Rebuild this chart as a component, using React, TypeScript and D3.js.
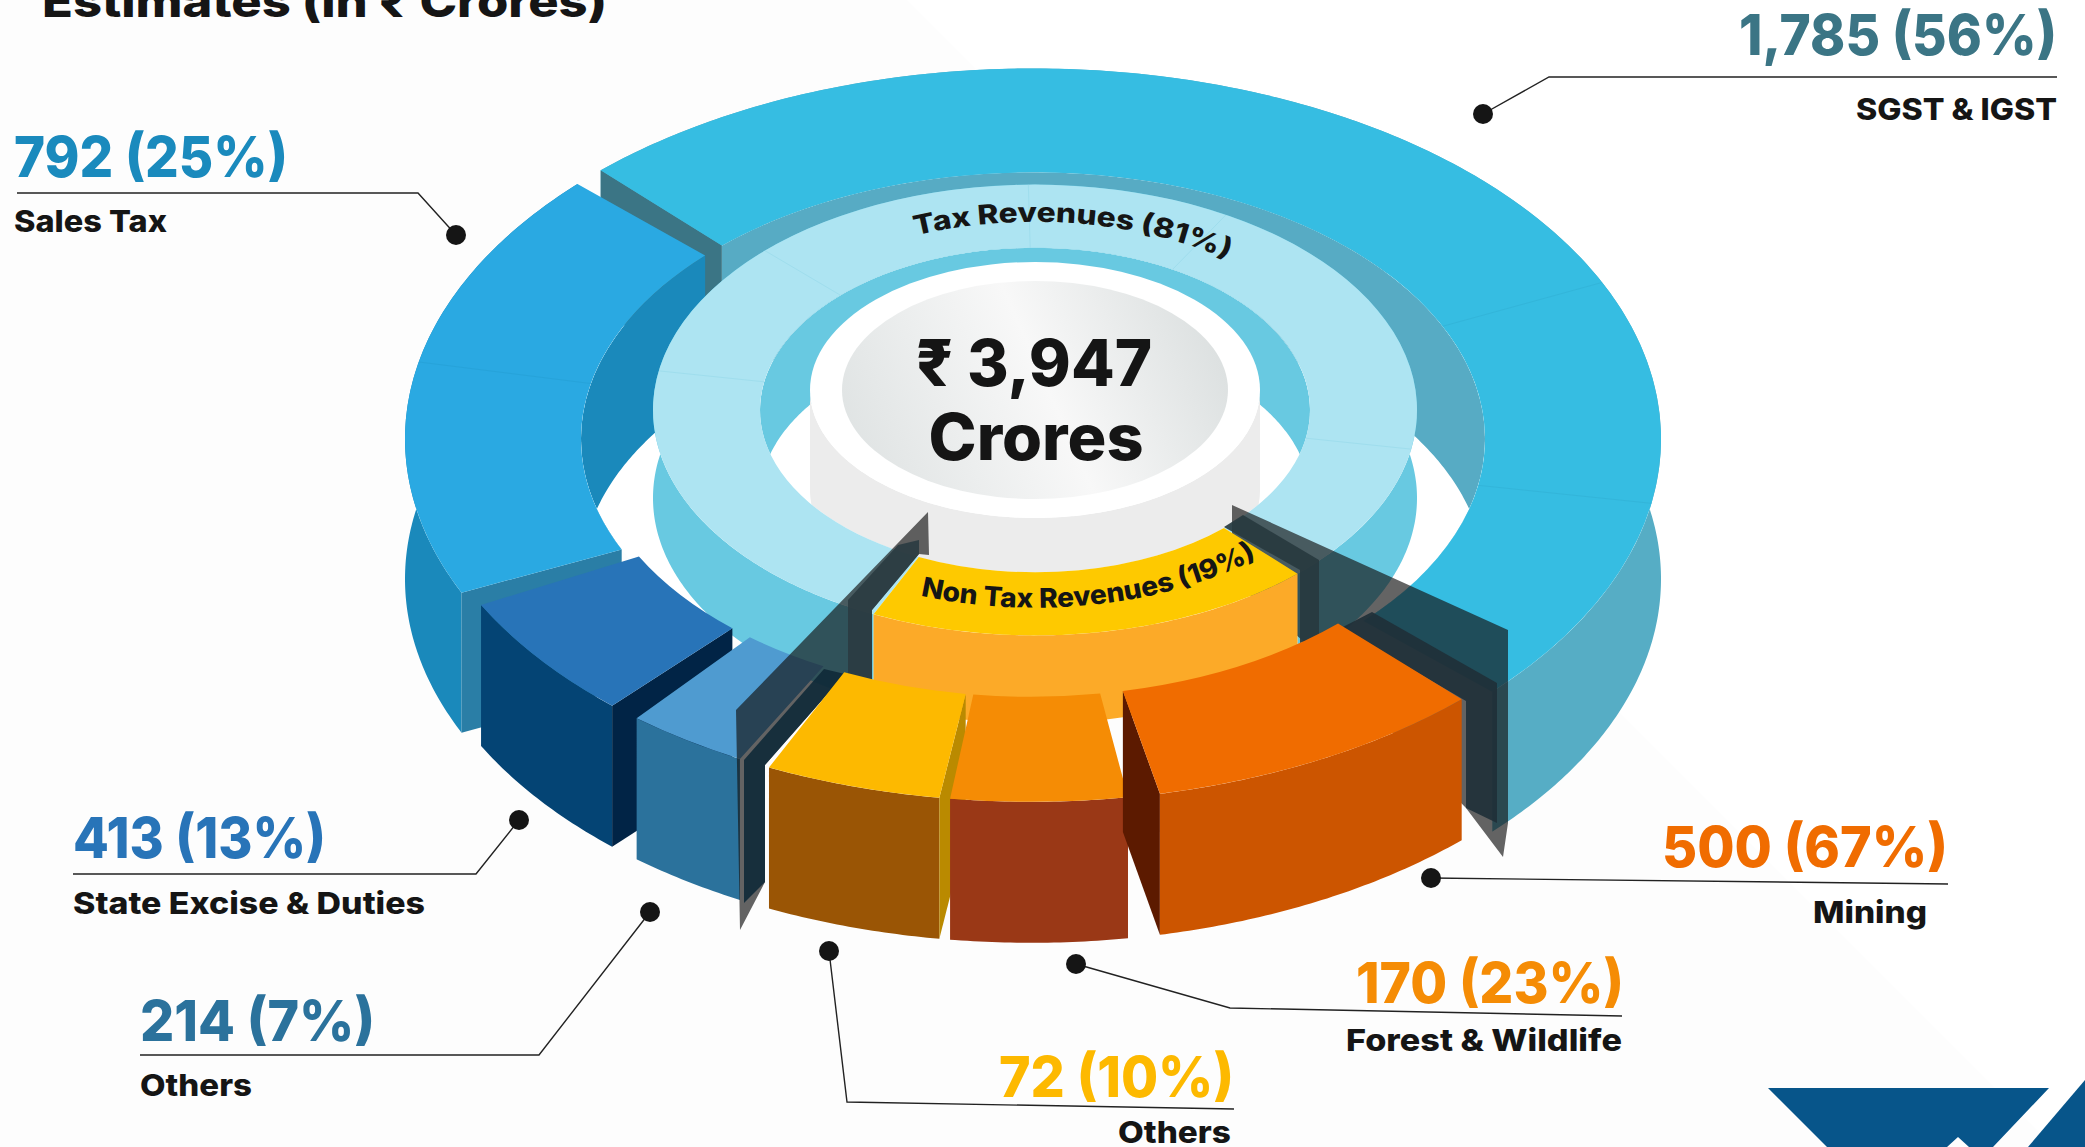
import React from "react";
import * as d3 from "d3";

// values as printed on the picture
const nonTaxLabels = ["Mining", "Forest & Wildlife", "Others"];
const nonTaxValues = [500, 170, 72];
const nonTaxShares = [67, 23, 10];
const taxLabels = ["Others", "State Excise & Duties", "Sales Tax", "SGST & IGST"];
const taxValues = [214, 413, 792, 1785];
const taxShares = [7, 13, 25, 56];
const revenueLabels = ["Tax Revenues", "Non Tax Revenues"];
const revenueShares = [81, 19];
const total = "₹ 3,947";

const width = 2085;
const height = 1147;
const FONT = "Inter, 'Noto Sans', sans-serif";
const rad = (d) => (d * Math.PI) / 180;

// the outer ring of the source is hand drawn and its wedges are not proportional,
// so cumulative value goes through a piecewise scale onto the angles as drawn
const outerValues = [...nonTaxValues, ...taxValues];
const cumulative = [0, ...d3.cumsum(outerValues)];
const outerAngle = d3.scaleLinear().domain(cumulative).range([134.5, 169.5, 188, 206.5, 221, 244, 315, 494.5].map(rad));
const gaps = [3, 3, 1, 3, 3, 3, 3, 3].map(rad);

const OUTER = { cx: 1033, cy: 439, R: 628, r: 452, k: 0.59, h: 140 };
const FRONT = { cx: 1031, cy: 436, R: 620, r: 442, k: 0.59, h: 141 };
const INNER = { cx: 1035, cy: 410, R: 382, r: 275, k: 0.59, h: 88 };
const DISC = { cx: 1035, cy: 390, rx: 225, ry: 128, rxIn: 193, ryIn: 109, h: 100 };

const pt = (ring, radius, a, drop = 0) => [
  ring.cx + radius * Math.sin(a),
  ring.cy - ring.k * radius * Math.cos(a) + drop,
];
const samples = (a0, a1) => [...d3.range(a0, a1, 0.01), a1];

const wall = (ring, radius, a0, a1) =>
  d3
    .area()
    .x((a) => pt(ring, radius, a)[0])
    .y0((a) => pt(ring, radius, a)[1])
    .y1((a) => pt(ring, radius, a, ring.h)[1])(samples(a0, a1));

const face = (ring, a) =>
  d3.line().curve(d3.curveLinearClosed)([
    pt(ring, ring.R, a),
    pt(ring, ring.r, a),
    pt(ring, ring.r, a, ring.h),
    pt(ring, ring.R, a, ring.h),
  ]);

const curveOn = (ring, radius, a0, a1) =>
  d3.line()(d3.range(0, 61).map((i) => pt(ring, radius, a0 + ((a1 - a0) * i) / 60)));

const Top = ({ ring, a0, a1, fill }) => (
  <path
    transform={`translate(${ring.cx},${ring.cy}) scale(1,${ring.k})`}
    d={d3.arc()({ innerRadius: ring.r, outerRadius: ring.R, startAngle: a0, endAngle: a1 })}
    fill={fill}
  />
);

const outerSlices = outerValues.map((v, i) => ({
  a0: outerAngle(cumulative[i]) + gaps[i] / 2,
  a1: outerAngle(cumulative[i + 1]) - gaps[i + 1] / 2,
}));
const [mining, forest, ntOthers, tOthers, excise, sales, sgst] = outerSlices;

const inner = d3
  .pie()
  .sort(null)
  .startAngle(rad(205))
  .endAngle(rad(565))(revenueShares);
const [taxArc, nonTaxArc] = inner;

// faint seams printed on the rings
const innerSeams = [280, 315, 359, 30, 100].map(rad);
const outerSeams = [282, 65, 100].map(rad);

// shadow panels on both sides of the pulled out wedge
const panels = [
  [[928, 512], [929, 555], [919, 554], [872, 610], [872, 680], [845, 674], [765, 765], [765, 882], [740, 930], [736, 710]],
  [[1232, 505], [1508, 630], [1508, 823], [1503, 857], [1466, 808], [1302, 640], [1232, 580]],
];
const panelsDark = [
  { fill: "#2b3c42", points: [[898, 545], [848, 600], [848, 677], [872, 680], [872, 610], [919, 554], [919, 540]] },
  { fill: "#102a38", points: [[824, 669], [744, 760], [744, 903], [765, 882], [765, 765], [845, 674]] },
  { fill: "#28393f", points: [[1243, 515], [1319, 560], [1319, 637], [1300, 643], [1300, 570], [1224, 527]] },
  { fill: "#203038", points: [[1372, 612], [1497, 683], [1497, 823], [1466, 808], [1466, 701], [1341, 628]] },
];

const fmt = d3.format(",");
const valueText = (v, s) => `${fmt(v)} (${s}%)`;

const callouts = [
  { label: nonTaxLabels[0], value: nonTaxValues[0], share: nonTaxShares[0], color: "#f06c00", anchor: "end",
    x: 1948, vLen: 286, y: 867, ly: 923, lx: 1927, lLen: 114, line: [[1431, 878], [1948, 884]] },
  { label: nonTaxLabels[1], value: nonTaxValues[1], share: nonTaxShares[1], color: "#f58c05", anchor: "end",
    x: 1624, vLen: 268, y: 1003, ly: 1051, lx: 1622, lLen: 276, line: [[1076, 964], [1230, 1008], [1622, 1016]] },
  { label: nonTaxLabels[2], value: nonTaxValues[2], share: nonTaxShares[2], color: "#fdb900", anchor: "end",
    x: 1234, vLen: 235, y: 1097, ly: 1143, lx: 1231, lLen: 113, line: [[829, 951], [847, 1102], [1234, 1109]] },
  { label: taxLabels[0], value: taxValues[0], share: taxShares[0], color: "#2b729c", anchor: "start",
    x: 140, vLen: 235, y: 1041, ly: 1096, lx: 140, lLen: 112, line: [[650, 912], [539, 1055], [140, 1055]] },
  { label: taxLabels[1], value: taxValues[1], share: taxShares[1], color: "#2874b8", anchor: "start",
    x: 73, vLen: 253, y: 858, ly: 914, lx: 73, lLen: 352, line: [[519, 820], [476, 874], [73, 874]] },
  { label: taxLabels[2], value: taxValues[2], share: taxShares[2], color: "#1a8abd", anchor: "start",
    x: 14, vLen: 274, y: 177, ly: 232, lx: 14, lLen: 153, line: [[456, 235], [418, 193], [17, 193]] },
  { label: taxLabels[3], value: taxValues[3], share: taxShares[3], color: "#3b7585", anchor: "end",
    x: 2057, vLen: 318, y: 55, ly: 120, lx: 2057, lLen: 201, line: [[1483, 114], [1549, 77], [2057, 77]] },
];

const seamLine = (ring, a) => d3.line()([pt(ring, ring.r, a), pt(ring, ring.R, a)]);

export default function App() {
  const poly = d3.line().curve(d3.curveLinearClosed);
  const near0 = rad(90);
  const near1 = rad(270);
  return (
    <svg
      width={width}
      height={height}
      viewBox={`0 0 ${width} ${height}`}
      style={{ position: "absolute", left: 0, top: 0, display: "block" }}
      fontFamily={FONT}
    >
      <defs>
        <clipPath id="outer-hole">
          <ellipse cx={OUTER.cx} cy={OUTER.cy} rx={OUTER.r} ry={OUTER.r * OUTER.k} />
        </clipPath>
        <clipPath id="inner-hole">
          <ellipse cx={INNER.cx} cy={INNER.cy} rx={INNER.r} ry={INNER.r * INNER.k} />
        </clipPath>
        <linearGradient id="disc-face" x1="0" y1="0.7" x2="1" y2="0.45">
          <stop offset="0" stopColor="#dfe3e3" />
          <stop offset="0.55" stopColor="#f8f8f8" />
          <stop offset="1" stopColor="#dde1e1" />
        </linearGradient>
        <path id="tax-arc" d={curveOn(INNER, 319, rad(338), rad(396))} />
        <path id="nontax-arc" d={curveOn(INNER, 335, rad(200), rad(139))} />
      </defs>

      <rect width={width} height={height} fill="#fdfdfd" />
      <path d={poly([[907, 0], [2085, 0], [2085, 1147], [2054, 1147]])} fill="#ffffff" />

      {/* corner mark */}
      <path d={poly([[1768, 1088], [2049, 1088], [1993, 1147], [1969, 1147], [1958, 1137], [1947, 1147], [1827, 1147]])} fill="#07558a" />
      <path d={poly([[2085, 1080], [2028, 1147], [2085, 1147]])} fill="#07558a" />

      <text x={42} y={17} fontSize={44} fontWeight={800} fill="#151515" textLength={565} lengthAdjust="spacingAndGlyphs">
        Estimates (in ₹ Crores)
      </text>

      {/* big ring, back part */}
      <path d={wall(OUTER, OUTER.R, sgst.a0, sgst.a1)} fill="#56adc5" />
      <path d={wall(OUTER, OUTER.R, sales.a0, sales.a1)} fill="#1a89bb" />
      <ellipse cx={OUTER.cx} cy={OUTER.cy} rx={OUTER.r} ry={OUTER.r * OUTER.k} fill="#ffffff" />
      <g clipPath="url(#outer-hole)">
        <path d={wall(OUTER, OUTER.r, sgst.a0, sgst.a1)} fill="#57abc4" />
      </g>
      <path d={face(OUTER, sgst.a0)} fill="#3b7585" />
      <g clipPath="url(#outer-hole)">
        <path d={wall(OUTER, OUTER.r, sales.a0, sales.a1)} fill="#1a89bb" />
      </g>
      <path d={face(OUTER, sales.a0)} fill="#2a7ea6" />
      <Top ring={OUTER} a0={sgst.a0} a1={sgst.a1} fill="#36bde2" />
      <Top ring={OUTER} a0={sales.a0} a1={sales.a1} fill="#2aa9e2" />
      {outerSeams.map((a) => (
        <path key={a} d={seamLine(OUTER, a)} stroke={a > Math.PI ? "#2199cc" : "#2ea8cc"} strokeWidth={1} opacity={0.35} />
      ))}

      {/* light ring and the centre disc */}
      <path d={wall(INNER, INNER.R, taxArc.startAngle, taxArc.endAngle)} fill="#68c9e1" />
      <ellipse cx={INNER.cx} cy={INNER.cy} rx={INNER.r} ry={INNER.r * INNER.k} fill="#ffffff" />
      <g clipPath="url(#inner-hole)">
        <path d={wall(INNER, INNER.r, rad(-90), rad(90))} fill="#68c9e1" />
        <path
          d={d3
            .area()
            .x((a) => DISC.cx + DISC.rx * Math.sin(a))
            .y0((a) => DISC.cy - DISC.ry * Math.cos(a))
            .y1((a) => DISC.cy - DISC.ry * Math.cos(a) + DISC.h)(samples(near0, near1))}
          fill="#ececec"
        />
      </g>
      <ellipse cx={DISC.cx} cy={DISC.cy} rx={DISC.rx} ry={DISC.ry} fill="#ffffff" />
      <ellipse cx={DISC.cx} cy={DISC.cy} rx={DISC.rxIn} ry={DISC.ryIn} fill="url(#disc-face)" />
      <Top ring={INNER} a0={taxArc.startAngle} a1={taxArc.endAngle} fill="#ade4f2" />
      {innerSeams.map((a) => (
        <path key={a} d={seamLine(INNER, a)} stroke="#8fd6e8" strokeWidth={1} opacity={0.45} />
      ))}

      <text fontSize={27} fontWeight={800} fill="#151515">
        <textPath href="#tax-arc" textLength={318} lengthAdjust="spacingAndGlyphs">
          {`${revenueLabels[0]} (${revenueShares[0]}%)`}
        </textPath>
      </text>

      <text textAnchor="middle" fontWeight={800} fontSize={64} fill="#151515">
        <tspan x={1034} y={386} textLength={236} lengthAdjust="spacingAndGlyphs">{total}</tspan>
        <tspan x={1036} y={460} textLength={215} lengthAdjust="spacingAndGlyphs">Crores</tspan>
      </text>

      {/* tax wedges at the front */}
      <path d={wall(FRONT, FRONT.R, excise.a0, excise.a1)} fill="#044474" />
      <path d={face(FRONT, excise.a0)} fill="#012446" />
      <Top ring={FRONT} a0={excise.a0} a1={excise.a1} fill="#2874b8" />
      <path d={wall(FRONT, FRONT.R, tOthers.a0, tOthers.a1)} fill="#2b729c" />
      <Top ring={FRONT} a0={tOthers.a0} a1={tOthers.a1} fill="#4f9bd0" />

      {panels.map((p, i) => (
        <path key={i} d={poly(p)} fill="#141414" fillOpacity={0.66} />
      ))}
      {panelsDark.map((p, i) => (
        <path key={i} d={poly(p.points)} fill={p.fill} fillOpacity={0.92} />
      ))}

      {/* non tax block */}
      <path d={wall(INNER, INNER.R, nonTaxArc.startAngle, nonTaxArc.endAngle)} fill="#fcaa28" />
      <Top ring={INNER} a0={nonTaxArc.startAngle} a1={nonTaxArc.endAngle} fill="#fec900" />
      <text fontSize={27} fontWeight={800} fill="#151515">
        <textPath href="#nontax-arc" textLength={345} lengthAdjust="spacingAndGlyphs">
          {`${revenueLabels[1]} (${revenueShares[1]}%)`}
        </textPath>
      </text>

      <path d={wall(FRONT, FRONT.R, ntOthers.a0, ntOthers.a1)} fill="#9a5505" />
      <path d={face(FRONT, ntOthers.a0)} fill="#ba8a00" />
      <Top ring={FRONT} a0={ntOthers.a0} a1={ntOthers.a1} fill="#fdb900" />
      <path d={wall(FRONT, FRONT.R, forest.a0, forest.a1)} fill="#9a3816" />
      <Top ring={FRONT} a0={forest.a0} a1={forest.a1} fill="#f58c05" />
      <path d={face(FRONT, mining.a1)} fill="#5c1a00" />
      <path d={wall(FRONT, FRONT.R, mining.a0, mining.a1)} fill="#cc5500" />
      <Top ring={FRONT} a0={mining.a0} a1={mining.a1} fill="#f06c00" />

      {/* call outs */}
      {callouts.map((c, i) => (
        <g key={i}>
          <path d={d3.line()(c.line)} fill="none" stroke="#222222" strokeWidth={1.4} />
          <circle cx={c.line[0][0]} cy={c.line[0][1]} r={10} fill="#151515" />
          <text
            x={c.x}
            y={c.y}
            textAnchor={c.anchor}
            fontSize={57}
            fontWeight={800}
            fill={c.color}
            textLength={c.vLen}
            lengthAdjust="spacingAndGlyphs"
          >
            {valueText(c.value, c.share)}
          </text>
          <text
            x={c.lx}
            y={c.ly}
            textAnchor={c.anchor}
            fontSize={30}
            fontWeight={800}
            fill="#151515"
            textLength={c.lLen}
            lengthAdjust="spacingAndGlyphs"
          >
            {c.label}
          </text>
        </g>
      ))}
    </svg>
  );
}
